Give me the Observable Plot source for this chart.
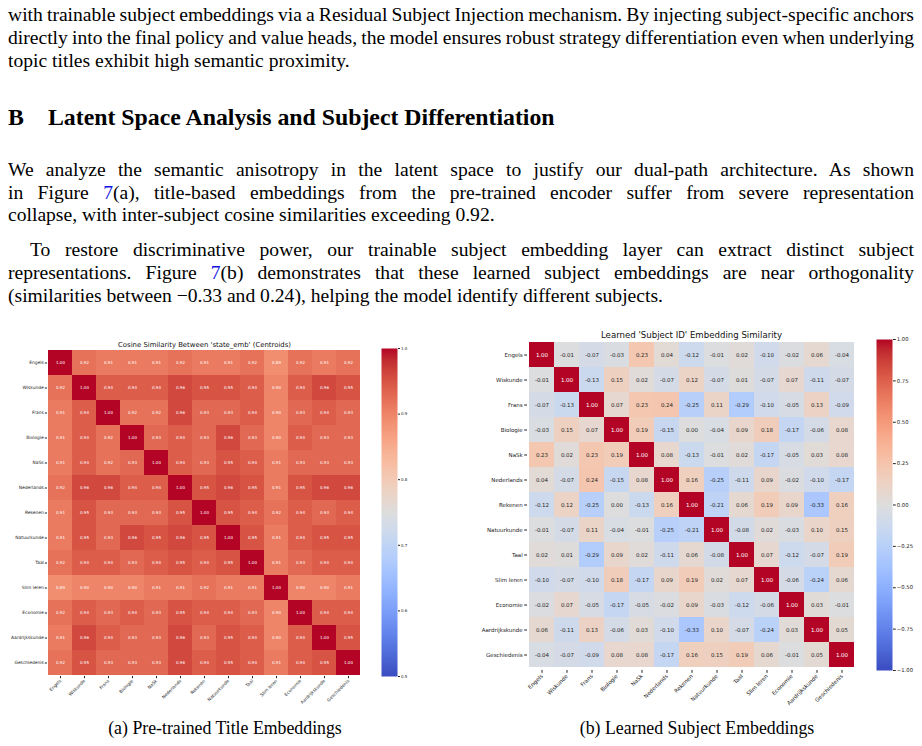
<!DOCTYPE html>
<html><head><meta charset="utf-8">
<script src="https://cdn.jsdelivr.net/npm/d3@7"></script>
<script src="https://cdn.jsdelivr.net/npm/@observablehq/plot@0.6"></script>
<style>
html,body{margin:0;padding:0;background:#fff;}
#page{position:relative;width:922px;height:746px;overflow:hidden;background:#fff;font-family:"Liberation Serif","Times New Roman",serif;color:#000;}
.ln{position:absolute;left:8px;width:906px;font-size:19.6px;line-height:20px;white-space:nowrap;text-align:left;}
.ref{color:#1010e0;}
.hd{position:absolute;top:105px;font-size:23.8px;line-height:24px;font-weight:bold;white-space:nowrap;}
.cap{position:absolute;top:719px;width:400px;font-size:17.8px;line-height:18px;text-align:center;white-space:nowrap;}
.chart{position:absolute;}
.chart svg{max-width:none;}
</style></head>
<body>
<div id="page">
  <div class="ln j" style="top:5.4px">with trainable subject embeddings via a Residual Subject Injection mechanism. By injecting subject-specific anchors</div>
  <div class="ln j" style="top:28.4px">directly into the final policy and value heads, the model ensures robust strategy differentiation even when underlying</div>
  <div class="ln" style="top:51px">topic titles exhibit high semantic proximity.</div>
  <div class="hd" style="left:8px">B</div>
  <div class="hd" style="left:48px">Latent Space Analysis and Subject Differentiation</div>
  <div class="ln j" style="top:159.8px">We analyze the semantic anisotropy in the latent space to justify our dual-path architecture. As shown</div>
  <div class="ln j" style="top:182.6px">in Figure <span class="ref">7</span>(a), title-based embeddings from the pre-trained encoder suffer from severe representation</div>
  <div class="ln" style="top:205.4px">collapse, with inter-subject cosine similarities exceeding 0.92.</div>
  <div class="ln j" style="top:240.4px;left:30px;width:884px">To restore discriminative power, our trainable subject embedding layer can extract distinct subject</div>
  <div class="ln j" style="top:263.2px">representations. Figure <span class="ref">7</span>(b) demonstrates that these learned subject embeddings are near orthogonality</div>
  <div class="ln" style="top:286px">(similarities between −0.33 and 0.24), helping the model identify different subjects.</div>

  <div class="chart" id="hmA" style="left:0px;top:320px"></div>
  <div class="chart" id="cbA" style="left:370px;top:320px"></div>
  <div class="chart" id="hmB" style="left:455px;top:310px"></div>
  <div class="chart" id="cbB" style="left:865px;top:310px"></div>

  <div class="cap" style="left:25px">(a) Pre-trained Title Embeddings</div>
  <div class="cap" style="left:497px">(b) Learned Subject Embeddings</div>
</div>
<script>
// justify each full text line to its box width by adjusting word spacing
document.querySelectorAll(".j").forEach(el => {
  const target = parseFloat(el.style.width || "906");
  const probe = document.createElement("span");
  while (el.firstChild) probe.appendChild(el.firstChild);
  el.appendChild(probe);
  const natural = probe.getBoundingClientRect().width;
  const spaces = (el.textContent.match(/ /g) || []).length;
  if (spaces) el.style.wordSpacing = ((target - natural) / spaces) + "px";
});

const subjects = ["Engels","Wiskunde","Frans","Biologie","NaSk","Nederlands","Rekenen","Natuurkunde","Taal","Slim leren","Economie","Aardrijkskunde","Geschiedenis"];

// (a) cosine similarity between title embeddings (rows in subject order)
const titleSim = [
  [1.00,0.92,0.91,0.91,0.91,0.92,0.91,0.91,0.92,0.89,0.92,0.91,0.92],
  [0.92,1.00,0.94,0.94,0.94,0.96,0.95,0.95,0.94,0.90,0.94,0.96,0.95],
  [0.91,0.94,1.00,0.92,0.92,0.96,0.93,0.93,0.94,0.90,0.93,0.94,0.93],
  [0.91,0.94,0.92,1.00,0.93,0.94,0.93,0.96,0.93,0.90,0.94,0.93,0.93],
  [0.91,0.94,0.92,0.93,1.00,0.94,0.93,0.95,0.94,0.91,0.93,0.93,0.93],
  [0.92,0.96,0.96,0.94,0.94,1.00,0.95,0.96,0.95,0.91,0.95,0.96,0.96],
  [0.91,0.95,0.93,0.93,0.93,0.95,1.00,0.95,0.94,0.92,0.94,0.93,0.94],
  [0.91,0.95,0.93,0.96,0.95,0.96,0.95,1.00,0.95,0.91,0.94,0.95,0.95],
  [0.92,0.94,0.94,0.93,0.94,0.95,0.94,0.95,1.00,0.91,0.93,0.94,0.94],
  [0.89,0.90,0.90,0.90,0.91,0.91,0.92,0.91,0.91,1.00,0.90,0.90,0.91],
  [0.92,0.94,0.93,0.94,0.93,0.95,0.94,0.94,0.93,0.90,1.00,0.94,0.94],
  [0.91,0.96,0.94,0.93,0.93,0.96,0.93,0.95,0.94,0.90,0.94,1.00,0.95],
  [0.92,0.95,0.93,0.93,0.93,0.96,0.94,0.95,0.94,0.91,0.94,0.95,1.00]
];

// (b) learned subject ID embedding similarity
const learnedSim = [
  [ 1.00,-0.01,-0.07,-0.03, 0.23, 0.04,-0.12,-0.01, 0.02,-0.10,-0.02, 0.06,-0.04],
  [-0.01, 1.00,-0.13, 0.15, 0.02,-0.07, 0.12,-0.07, 0.01,-0.07, 0.07,-0.11,-0.07],
  [-0.07,-0.13, 1.00, 0.07, 0.23, 0.24,-0.25, 0.11,-0.29,-0.10,-0.05, 0.13,-0.09],
  [-0.03, 0.15, 0.07, 1.00, 0.19,-0.15, 0.00,-0.04, 0.09, 0.18,-0.17,-0.06, 0.08],
  [ 0.23, 0.02, 0.23, 0.19, 1.00, 0.08,-0.13,-0.01, 0.02,-0.17,-0.05, 0.03, 0.08],
  [ 0.04,-0.07, 0.24,-0.15, 0.08, 1.00, 0.16,-0.25,-0.11, 0.09,-0.02,-0.10,-0.17],
  [-0.12, 0.12,-0.25, 0.00,-0.13, 0.16, 1.00,-0.21, 0.06, 0.19, 0.09,-0.33, 0.16],
  [-0.01,-0.07, 0.11,-0.04,-0.01,-0.25,-0.21, 1.00,-0.08, 0.02,-0.03, 0.10, 0.15],
  [ 0.02, 0.01,-0.29, 0.09, 0.02,-0.11, 0.06,-0.08, 1.00, 0.07,-0.12,-0.07, 0.19],
  [-0.10,-0.07,-0.10, 0.18,-0.17, 0.09, 0.19, 0.02, 0.07, 1.00,-0.06,-0.24, 0.06],
  [-0.02, 0.07,-0.05,-0.17,-0.05,-0.02, 0.09,-0.03,-0.12,-0.06, 1.00, 0.03,-0.01],
  [ 0.06,-0.11, 0.13,-0.06, 0.03,-0.10,-0.33, 0.10,-0.07,-0.24, 0.03, 1.00, 0.05],
  [-0.04,-0.07,-0.09, 0.08, 0.08,-0.17, 0.16, 0.15, 0.19, 0.06,-0.01, 0.05, 1.00]
];

const titleA = "Cosine Similarity Between 'state_emb' (Centroids)";
const titleB = "Learned 'Subject ID' Embedding Similarity";
const domainA = [0.5, 1.0];
const domainB = [-1.0, 1.0];
const ticksA = [0.5, 0.6, 0.7, 0.8, 0.9, 1.0];
const ticksB = [-1.0, -0.75, -0.5, -0.25, 0.0, 0.25, 0.5, 0.75, 1.0];

// matplotlib "coolwarm" palette (Moreland)
const coolwarmStops = [
  [59,76,192],[68,90,204],[77,104,215],[87,117,225],[98,130,234],[108,142,241],[119,154,247],[130,165,251],
  [141,176,254],[152,185,255],[163,194,255],[174,201,253],[184,208,249],[194,213,244],[204,217,238],[213,219,230],
  [221,221,221],[229,216,209],[236,211,197],[241,204,185],[245,196,173],[247,187,160],[247,177,148],[247,166,135],
  [244,154,123],[241,141,111],[236,127,99],[229,112,88],[222,96,77],[213,80,66],[203,62,56],[192,40,47],[180,4,38]
].map(([r,g,b]) => `rgb(${r},${g},${b})`);
const coolwarm = d3.piecewise(d3.interpolateRgb, coolwarmStops);

function toCells(matrix) {
  return matrix.flatMap((row, i) => row.map((v, j) => ({row: subjects[i], col: subjects[j], v})));
}
function luminance(c) {
  const rgb = d3.rgb(c);
  const f = x => { x /= 255; return x <= 0.03928 ? x / 12.92 : Math.pow((x + 0.055) / 1.055, 2.4); };
  return 0.2126 * f(rgb.r) + 0.7152 * f(rgb.g) + 0.0722 * f(rgb.b);
}
const baseStyle = {fontFamily: "DejaVu Sans", color: "#222", background: "transparent", overflow: "visible", maxWidth: "none"};

function heatmap(o) {
  const data = toCells(o.matrix);
  const t = v => coolwarm(Math.max(0, Math.min(1, (v - o.domain[0]) / (o.domain[1] - o.domain[0]))));
  const dark = data.filter(d => luminance(t(d.v)) <= 0.408);
  const light = data.filter(d => luminance(t(d.v)) > 0.408);
  return Plot.plot({
    width: o.width, height: o.height,
    marginLeft: o.ml, marginTop: o.mt, marginRight: o.mr, marginBottom: o.mb,
    style: baseStyle,
    x: {domain: subjects, padding: 0, label: null},
    y: {domain: subjects, padding: 0, label: null},
    color: {type: "linear", domain: o.domain, interpolate: coolwarm, clamp: true},
    marks: [
      Plot.cell(data, {x: "col", y: "row", fill: "v", inset: 0}),
      Plot.text(dark, {x: "col", y: "row", text: d => d.v.toFixed(2), fill: "#ffffff", fontSize: o.fs}),
      Plot.text(light, {x: "col", y: "row", text: d => d.v.toFixed(2), fill: "#262626", fontSize: o.fs}),
      Plot.axisX({anchor: "bottom", tickRotate: -45, textAnchor: "end", tickSize: o.tick, tickPadding: o.tpad, fontSize: o.lfs, label: null}),
      Plot.axisY({anchor: "left", tickSize: o.tick, tickPadding: o.tpad, fontSize: o.lfs, label: null}),
      Plot.text([o.title], {frameAnchor: "top", lineAnchor: "bottom", dy: -2, fontSize: o.tfs, fill: "#111"})
    ]
  });
}

function colorbar(o) {
  return Plot.plot({
    width: o.width, height: o.height,
    marginLeft: o.ml, marginTop: o.mt, marginRight: o.mr, marginBottom: o.mb,
    style: baseStyle,
    x: {domain: [0, 1], axis: null},
    y: {domain: o.domain, axis: null},
    color: {type: "linear", domain: o.domain, interpolate: coolwarm},
    marks: [
      Plot.raster({x1: 0, x2: 1, y1: o.domain[0], y2: o.domain[1], fill: (x, y) => y}),
      Plot.axisY(o.ticks, {anchor: "right", tickFormat: d3.format(o.fmt), tickSize: o.tick, tickPadding: 1.5, fontSize: o.fs, label: null})
    ]
  });
}

document.getElementById("hmA").append(heatmap({
  matrix: titleSim, domain: domainA, title: titleA,
  width: 365, height: 426, ml: 47, mt: 28, mr: 4, mb: 70,
  fs: 4.0, lfs: 4.4, tfs: 6.9, tick: 2.2, tpad: 1.5
}));
document.getElementById("cbA").append(colorbar({
  domain: domainA, ticks: ticksA, fmt: ".1f",
  width: 52, height: 426, ml: 11, mt: 28, mr: 25, mb: 70, fs: 4.0, tick: 2
}));
document.getElementById("hmB").append(heatmap({
  matrix: learnedSim, domain: domainB, title: titleB,
  width: 405, height: 430, ml: 72, mt: 29, mr: 5, mb: 70,
  fs: 5.5, lfs: 5.5, tfs: 8.6, tick: 2.8, tpad: 2
}));
document.getElementById("cbB").append(colorbar({
  domain: domainB, ticks: ticksB, fmt: ".2f",
  width: 58, height: 430, ml: 11, mt: 29, mr: 31, mb: 70, fs: 5.3, tick: 2.8
}));
</script>
</body></html>
